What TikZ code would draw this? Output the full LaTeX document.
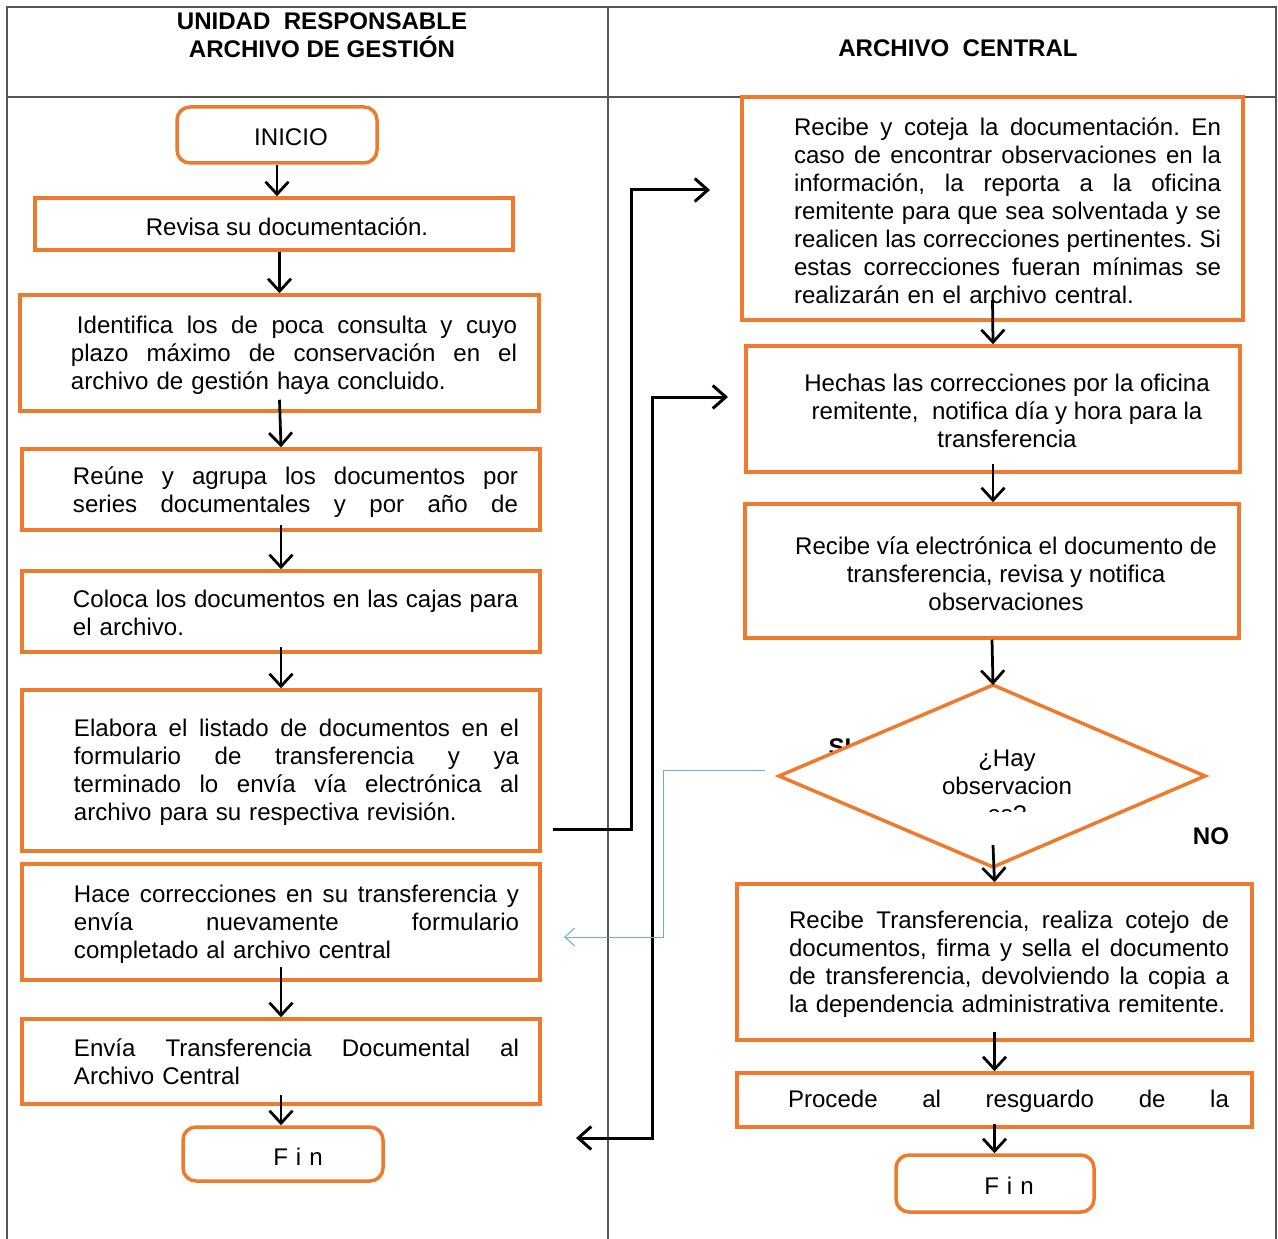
\documentclass[tikz,border=0pt]{standalone}
\usepackage{fontspec}
\setmainfont{Liberation Sans}
\usetikzlibrary{arrows.meta,fit}
\definecolor{boxor}{HTML}{EE7A2E}
\definecolor{lnblue}{HTML}{6BAFD8}
\definecolor{framegray}{HTML}{555555}
\newcommand\jl[2][89mm]{\makebox[#1][s]{\spaceskip=\fontdimen2\font plus 1fil\relax\xspaceskip=\spaceskip #2}}
\begin{document}
\frenchspacing
\begin{tikzpicture}[x=0.2mm,y=-0.2mm,
  box/.style={draw=boxor,line width=0.7mm,inner sep=0pt},
  rbox/.style={box,rounded corners=2.6mm},
  txt/.style={inner sep=0pt,font=\fontsize{13.7}{15.9}\selectfont},
  btxt/.style={inner sep=0pt,font=\fontsize{13.7}{15.9}\selectfont\bfseries},
  hdr/.style={inner sep=0pt,font=\fontsize{13.7}{15.9}\selectfont\bfseries,align=center},
  arr/.style={line width=0.55mm,-{Straight Barb[length=2.5mm,width=4.6mm]}},
  xarr/.style={line width=0.6mm,-{Straight Barb[length=2.6mm,width=4.6mm]}},
  darr/.style={line width=0.6mm,{Straight Barb[length=2.6mm,width=4.6mm]}-{Straight Barb[length=2.6mm,width=4.6mm]}},
  barr/.style={lnblue,line width=0.2mm,-{Straight Barb[length=2mm,width=3.6mm]}},
  frm/.style={framegray,line width=0.3mm}]

\useasboundingbox (0,0) rectangle (1278,1239);

% frame
\draw[frm] (7,1239) -- (7,7) -- (1276,7) -- (1276,1239);
\draw[frm] (7,97) -- (1276,97);
\draw[frm] (608,7) -- (608,1239);

% headers
\node[hdr] (h1) at (322,35) {UNIDAD\ \ RESPONSABLE\\ARCHIVO DE GESTIÓN};
\node[hdr] (h2) at (958,48) {ARCHIVO\ \ CENTRAL};

% left column boxes
\node[rbox,fit={(177,107) (377,163)}] (L0) {};
\node[box,fit={(35,198) (513,250)}] (L1) {};
\node[box,fit={(20,295) (539,411)}] (L2) {};
\node[box,fit={(22,449) (540,530)}] (L3) {};
\node[box,fit={(22,571) (540,652)}] (L4) {};
\node[box,fit={(22,690) (540,851)}] (L5) {};
\node[box,fit={(22,864) (540,980)}] (L6) {};
\node[box,fit={(22,1019) (540,1104)}] (L7) {};
\node[rbox,fit={(183,1127) (383,1181)}] (L8) {};

\node[txt] (t0) at (291,137) {INICIO};
\node[txt] (t1) at (287,227) {Revisa su documentación.};
\node[txt,text width=89.2mm,align=left] (t2) at (294,355) {\jl[89.2mm]{\hspace*{1.2mm}Identifica los de poca consulta y cuyo}\\\jl[89.2mm]{plazo máximo de conservación en el}\\archivo de gestión haya concluido.};
\node[txt,text width=89mm,align=left] (t3) at (295.5,492) {\jl{Reúne y agrupa los documentos por}\\\jl{series documentales y por año de}};
\node[txt,text width=89mm,align=left] (t4) at (295.5,613) {\jl{Coloca los documentos en las cajas para}\\el archivo.};
\node[txt,text width=89mm,align=left] (t5) at (296.5,772) {\jl{Elabora el listado de documentos en el}\\\jl{formulario de transferencia y ya}\\\jl{terminado lo envía vía electrónica al}\\archivo para su respectiva revisión.};
\node[txt,text width=89mm,align=left] (t6) at (296.5,924) {\jl{Hace correcciones en su transferencia y}\\\jl{envía nuevamente formulario}\\completado al archivo central};
\node[txt,text width=89mm,align=left] (t7) at (296.5,1062) {\jl{Envía Transferencia Documental al}\\Archivo Central};
\node[txt] (t8) at (298,1157) {F\,\,i\,\,n};

% right column boxes
\node[box,fit={(742,97) (1243,320)}] (R1) {};
\node[box,fit={(746,346) (1240,472)}] (R2) {};
\node[box,fit={(745,504) (1239,638)}] (R3) {};
\node[box,fit={(737,884) (1252,1040)}] (R4) {};
\node[box,fit={(737,1073) (1252,1127)}] (R5) {};
\node[rbox,fit={(896,1155) (1094,1212)}] (R6) {};

\node[txt,text width=85.4mm,align=left] (s1) at (1007.5,211) {\jl[85.4mm]{Recibe y coteja la documentación. En}\\\jl[85.4mm]{caso de encontrar observaciones en la}\\\jl[85.4mm]{información, la reporta a la oficina}\\\jl[85.4mm]{remitente para que sea solventada y se}\\\jl[85.4mm]{realicen las correcciones pertinentes. Si}\\\jl[85.4mm]{estas correcciones fueran mínimas se}\\realizarán en el archivo central.};
\node[txt,align=center] (s2) at (1007,411) {Hechas las correcciones por la oficina\\remitente,\ \ notifica día y hora para la\\transferencia};
\node[txt,align=center] (s3) at (1006,574) {Recibe vía electrónica el documento de\\transferencia, revisa y notifica\\observaciones};
\node[txt,text width=88mm,align=left] (s4) at (1009,964) {\jl[88mm]{Recibe Transferencia, realiza cotejo de}\\\jl[88mm]{documentos, firma y sella el documento}\\\jl[88mm]{de transferencia, devolviendo la copia a}\\la dependencia administrativa remitente.};
\node[txt,text width=88.2mm,align=left] (s5) at (1008.5,1101) {\jl[88.2mm]{Procede al resguardo de la}};
\node[txt] (s6) at (1009,1186) {F\,\,i\,\,n};

% decision
\coordinate (dT) at (993,685);
\coordinate (dR) at (1205,776);
\coordinate (dB) at (993,867);
\coordinate (dL) at (779,776);
\node[btxt] (si) at (840,747) {SI};
\fill[white] (dL) -- (dT) -- (dR) -- (dB) -- cycle;
\begin{scope}
\clip (870,735) rectangle (1140,811);
\node[txt,align=center] (q) at (1007,786) {¿Hay\\observacion\\es?};
\end{scope}
\draw[draw=boxor,line width=0.7mm,line join=miter] (dL) -- (dT) -- (dR) -- (dB) -- cycle;
\node[btxt] (no) at (1211,836) {NO};

% left flow arrows
\draw[arr] (L0.south) -- (L0.south |- L1.north);
\draw[arr] (L2.north |- L1.south) -- (L2.north);
\draw[arr] ([yshift=2.6mm]L2.south) -- (L3.north);
\draw[arr] ([yshift=1.4mm]L3.south) -- (L4.north);
\draw[arr] ([yshift=1.4mm]L4.south) -- (L5.north);
\draw[arr] ([yshift=3mm]L6.south) -- (L7.north);
\draw[arr] ([yshift=2.2mm]L7.south) -- (L7.south |- L8.north);

% right flow arrows
\draw[arr] ([yshift=4.4mm]R1.south) -- (R2.north);
\draw[arr] ([yshift=2mm]R2.south) -- (R2.south |- R3.north);
\draw[arr] (R3.south) -- (dT);
\draw[arr] ([yshift=4.4mm]dB) -- (R4.north);
\draw[arr] ([yshift=2mm]R4.south) -- (R5.north);
\draw[arr] ([yshift=1mm]R5.south) -- (R5.south |- R6.north);

% cross connectors
\coordinate (e1s) at (553,829);
\coordinate (e1t) at (710,190);
\draw[xarr] (e1s) -- (631,829) |- (e1t);
\coordinate (e2a) at (728,397);
\coordinate (e2b) at (576,1138);
\draw[darr] (e2b) -| (652,397) -- (e2a);
\coordinate (b1) at (765,770);
\coordinate (b2) at (564,937);
\draw[barr] (b1) -| (663,937) -- (b2);
\end{tikzpicture}
\end{document}
